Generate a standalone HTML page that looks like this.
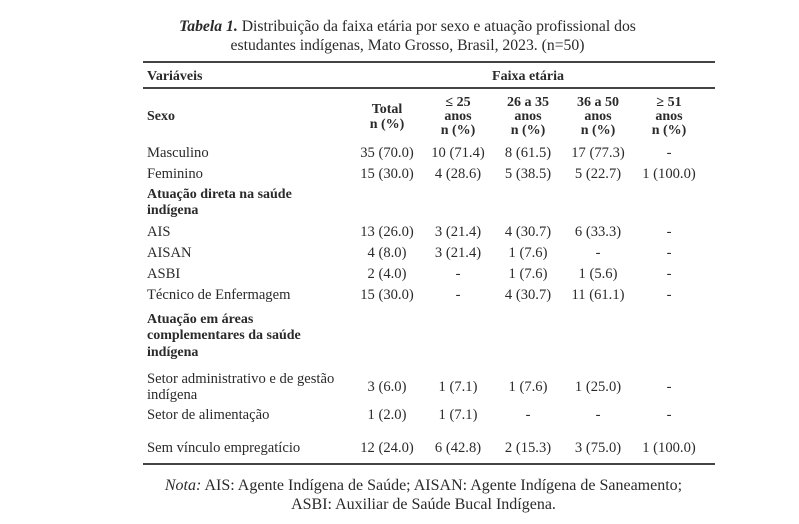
<!DOCTYPE html>
<html><head><meta charset="utf-8"><style>
body{margin:0;width:799px;height:524px;background:#fff;position:relative;overflow:hidden;font-family:"Liberation Serif",serif;color:#2a2a2a;font-size:14.6px}
.t{position:absolute;white-space:nowrap;line-height:16px;height:16px;transform:translateY(-7px)}
.c{text-align:center;width:90px;margin-left:-45px}
.b{font-weight:bold;font-size:14px}
.r{position:absolute;left:143px;width:572px;height:2px;background:#444}
.h{font-size:15.7px}
.n{font-size:16px}
</style></head><body>
<div class="t h" style="left:8px;width:799px;text-align:center;top:26px"><b><i>Tabela 1.</i></b> Distribuição da faixa etária por sexo e atuação profissional dos</div>
<div class="t h" style="left:8px;width:799px;text-align:center;top:45px">estudantes indígenas, Mato Grosso, Brasil, 2023. (n=50)</div>
<div class="r" style="top:61px"></div>
<div class="t b" style="left:147px;top:76px">Variáveis</div>
<div class="t b c" style="left:528px;top:76px">Faixa etária</div>
<div class="r" style="top:87px"></div>
<div class="t b" style="left:147px;top:116px">Sexo</div>
<div class="t b c" style="left:387px;top:109px">Total</div>
<div class="t b c" style="left:387px;top:124px">n (%)</div>
<div class="t b c" style="left:458px;top:102px">≤ 25</div><div class="t b c" style="left:458px;top:116px">anos</div><div class="t b c" style="left:458px;top:130px">n (%)</div>
<div class="t b c" style="left:528px;top:102px">26 a 35</div><div class="t b c" style="left:528px;top:116px">anos</div><div class="t b c" style="left:528px;top:130px">n (%)</div>
<div class="t b c" style="left:598px;top:102px">36 a 50</div><div class="t b c" style="left:598px;top:116px">anos</div><div class="t b c" style="left:598px;top:130px">n (%)</div>
<div class="t b c" style="left:669px;top:102px">≥ 51</div><div class="t b c" style="left:669px;top:116px">anos</div><div class="t b c" style="left:669px;top:130px">n (%)</div>

<div class="t" style="left:147px;top:152px">Masculino</div>
<div class="t c" style="left:387px;top:152px">35 (70.0)</div><div class="t c" style="left:458px;top:152px">10 (71.4)</div><div class="t c" style="left:528px;top:152px">8 (61.5)</div><div class="t c" style="left:598px;top:152px">17 (77.3)</div><div class="t c" style="left:669px;top:152px">-</div>
<div class="t" style="left:147px;top:173px">Feminino</div>
<div class="t c" style="left:387px;top:173px">15 (30.0)</div><div class="t c" style="left:458px;top:173px">4 (28.6)</div><div class="t c" style="left:528px;top:173px">5 (38.5)</div><div class="t c" style="left:598px;top:173px">5 (22.7)</div><div class="t c" style="left:669px;top:173px">1 (100.0)</div>
<div class="t b" style="left:147px;top:194px">Atuação direta na saúde</div>
<div class="t b" style="left:147px;top:210px">indígena</div>
<div class="t" style="left:147px;top:231px">AIS</div>
<div class="t c" style="left:387px;top:231px">13 (26.0)</div><div class="t c" style="left:458px;top:231px">3 (21.4)</div><div class="t c" style="left:528px;top:231px">4 (30.7)</div><div class="t c" style="left:598px;top:231px">6 (33.3)</div><div class="t c" style="left:669px;top:231px">-</div>
<div class="t" style="left:147px;top:252px">AISAN</div>
<div class="t c" style="left:387px;top:252px">4 (8.0)</div><div class="t c" style="left:458px;top:252px">3 (21.4)</div><div class="t c" style="left:528px;top:252px">1 (7.6)</div><div class="t c" style="left:598px;top:252px">-</div><div class="t c" style="left:669px;top:252px">-</div>
<div class="t" style="left:147px;top:273px">ASBI</div>
<div class="t c" style="left:387px;top:273px">2 (4.0)</div><div class="t c" style="left:458px;top:273px">-</div><div class="t c" style="left:528px;top:273px">1 (7.6)</div><div class="t c" style="left:598px;top:273px">1 (5.6)</div><div class="t c" style="left:669px;top:273px">-</div>
<div class="t" style="left:147px;top:294px">Técnico de Enfermagem</div>
<div class="t c" style="left:387px;top:294px">15 (30.0)</div><div class="t c" style="left:458px;top:294px">-</div><div class="t c" style="left:528px;top:294px">4 (30.7)</div><div class="t c" style="left:598px;top:294px">11 (61.1)</div><div class="t c" style="left:669px;top:294px">-</div>
<div class="t b" style="left:147px;top:319px">Atuação em áreas</div>
<div class="t b" style="left:147px;top:335px">complementares da saúde</div>
<div class="t b" style="left:147px;top:352px">indígena</div>
<div class="t" style="left:147px;top:378px">Setor administrativo e de gestão</div>
<div class="t" style="left:147px;top:394px">indígena</div>
<div class="t c" style="left:387px;top:386px">3 (6.0)</div><div class="t c" style="left:458px;top:386px">1 (7.1)</div><div class="t c" style="left:528px;top:386px">1 (7.6)</div><div class="t c" style="left:598px;top:386px">1 (25.0)</div><div class="t c" style="left:669px;top:386px">-</div>
<div class="t" style="left:147px;top:414px">Setor de alimentação</div>
<div class="t c" style="left:387px;top:414px">1 (2.0)</div><div class="t c" style="left:458px;top:414px">1 (7.1)</div><div class="t c" style="left:528px;top:414px">-</div><div class="t c" style="left:598px;top:414px">-</div><div class="t c" style="left:669px;top:414px">-</div>
<div class="t" style="left:147px;top:447px">Sem vínculo empregatício</div>
<div class="t c" style="left:387px;top:447px">12 (24.0)</div><div class="t c" style="left:458px;top:447px">6 (42.8)</div><div class="t c" style="left:528px;top:447px">2 (15.3)</div><div class="t c" style="left:598px;top:447px">3 (75.0)</div><div class="t c" style="left:669px;top:447px">1 (100.0)</div>
<div class="r" style="top:463px"></div>
<div class="t n" style="left:24px;width:799px;text-align:center;top:485px"><i>Nota:</i> AIS: Agente Indígena de Saúde; AISAN: Agente Indígena de Saneamento;</div>
<div class="t n" style="left:24px;width:799px;text-align:center;top:504px">ASBI: Auxiliar de Saúde Bucal Indígena.</div>
</body></html>
